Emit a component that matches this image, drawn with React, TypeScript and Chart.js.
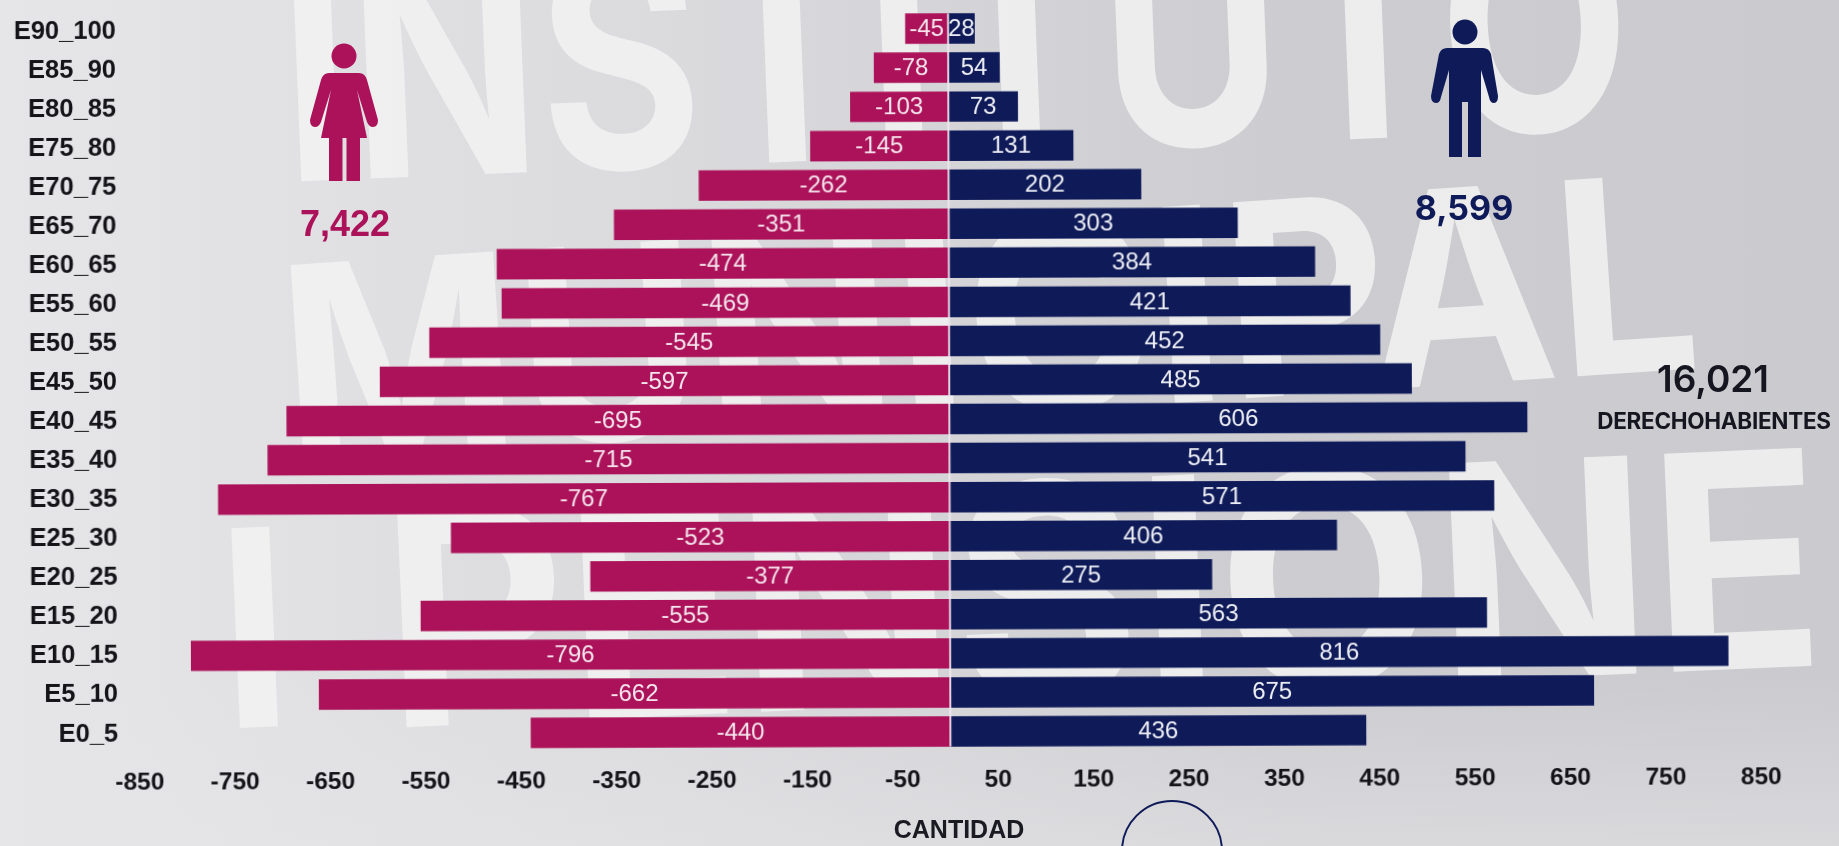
import React, { useEffect, useRef } from "react";
import { Chart, registerables } from "chart.js";

Chart.register(...registerables);

const categories = ["E90_100","E85_90","E80_85","E75_80","E70_75","E65_70","E60_65","E55_60","E50_55","E45_50","E40_45","E35_40","E30_35","E25_30","E20_25","E15_20","E10_15","E5_10","E0_5"];
const femaleValues = [-45,-78,-103,-145,-262,-351,-474,-469,-545,-597,-695,-715,-767,-523,-377,-555,-796,-662,-440];
const maleValues = [28,54,73,131,202,303,384,421,452,485,606,541,571,406,275,563,816,675,436];
const tickValues = [-850,-750,-650,-550,-450,-350,-250,-150,-50,50,150,250,350,450,550,650,750,850];
const axisTitle = "CANTIDAD";
const femaleTotal = "7,422";
const maleTotal = "8,599";
const grandTotal = "16,021";
const grandTotalLabel = "DERECHOHABIENTES";

const FEMALE = "#ab1259";
const MALE = "#0f1a58";

const barLabels = {
  id: "barLabels",
  afterDatasetsDraw(chart: any) {
    const { ctx } = chart;
    const zero = chart.scales.x.getPixelForValue(0);
    ctx.save();
    ctx.strokeStyle = "rgba(240,232,238,0.9)";
    ctx.lineWidth = 2;
    ctx.beginPath();
    ctx.moveTo(zero, chart.scales.y.getPixelForValue(0) - 15);
    ctx.lineTo(zero, chart.scales.y.getPixelForValue(categories.length - 1) + 15);
    ctx.stroke();
    ctx.font = '24px "Liberation Sans"';
    ctx.textAlign = "center";
    ctx.textBaseline = "middle";
    chart.data.datasets.forEach((ds: any, di: number) => {
      ctx.fillStyle = di === 0 ? "#f6e6ee" : "#eef0f6";
      chart.getDatasetMeta(di).data.forEach((el: any, i: number) => {
        ctx.fillText(String(ds.data[i]), (el.x + el.base) / 2, el.y + 1);
      });
    });
    ctx.restore();
  },
};

const letter: React.CSSProperties = { fontFamily: "Inter", fontWeight: 700 };

function Backdrop() {
  return (
    <svg width={1839} height={846} style={{ position: "absolute", left: 0, top: 0 }}>
      <defs>
        <linearGradient id="bg" x1="0" y1="0" x2="1" y2="0">
          <stop offset="0" stopColor="#e6e6e8" />
          <stop offset="0.35" stopColor="#dbdbde" />
          <stop offset="0.7" stopColor="#cdcdd1" />
          <stop offset="1" stopColor="#cbcbcf" />
        </linearGradient>
        <linearGradient id="bgv" x1="0" y1="0" x2="0" y2="1">
          <stop offset="0.8" stopColor="#e6e6e8" stopOpacity="0" />
          <stop offset="1" stopColor="#e6e6e8" stopOpacity="0.5" />
        </linearGradient>
      </defs>
      <rect width={1839} height={846} fill="url(#bg)" />
      <rect width={1839} height={846} fill="url(#bgv)" />
      <g fill="#f2f2f3" opacity={0.85} style={letter}>
        <text x={285} y={182} fontSize={300} textLength={1350} lengthAdjust="spacingAndGlyphs" transform="rotate(-2.3 285 182)">INSTITUTO</text>
        <text x={287} y={462} fontSize={270} textLength={1420} lengthAdjust="spacingAndGlyphs" transform="rotate(-3.8 287 462)">MUNICIPAL</text>
        <text x={388} y={728} fontSize={300} textLength={1440} lengthAdjust="spacingAndGlyphs" transform="rotate(-2.5 388 728)">PENSIONE</text>
        <rect x={240} y={528} width={38} height={200} transform="rotate(-2.5 240 728)" />
      </g>
      <g fill={FEMALE}>
        <circle cx={344} cy={56} r={12.5} />
        <path d="M329 73 H359 Q365 73 367 80 L378 120 Q378 127 373 127 Q369 127 367 122 L357 90 L367 138 H360 V181 H346.5 V138 H342.5 V181 H329 V138 H321 L331 90 L321 122 Q319 127 315 127 Q310 127 310 120 L321 80 Q323 73 329 73 Z" />
      </g>
      <g fill={MALE}>
        <circle cx={1465} cy={32} r={12.5} />
        <path d="M1447 48 H1483 Q1489 48 1491 54 L1498 96 Q1498 103 1494 103 Q1490 103 1489 97 L1481 70 V157 H1468 V102 H1462 V157 H1449 V70 L1441 97 Q1440 103 1436 103 Q1431 103 1431 96 L1439 54 Q1441 48 1447 48 Z" />
      </g>
      <circle cx={1172} cy={851} r={50} fill="none" stroke={MALE} strokeWidth={2} />
    </svg>
  );
}

const textBase: React.CSSProperties = { position: "absolute", transform: "translateX(-50%)", whiteSpace: "nowrap", lineHeight: 1 };

export default function App() {
  const ref = useRef<HTMLCanvasElement | null>(null);
  useEffect(() => {
    const chart = new Chart(ref.current as HTMLCanvasElement, {
      type: "bar",
      data: {
        labels: categories,
        datasets: [
          { label: "Mujeres", data: femaleValues, backgroundColor: FEMALE, barPercentage: 0.78, categoryPercentage: 1 },
          { label: "Hombres", data: maleValues, backgroundColor: MALE, barPercentage: 0.78, categoryPercentage: 1 },
        ],
      },
      options: {
        indexAxis: "y",
        responsive: false,
        animation: false,
        devicePixelRatio: 1,
        layout: { padding: { top: 9, right: 79, left: 0, bottom: 0 } },
        plugins: { legend: { display: false }, title: { display: false }, tooltip: { enabled: false } },
        scales: {
          x: {
            stacked: true,
            min: -850,
            max: 850,
            grid: { display: false, drawTicks: false },
            border: { display: false },
            afterFit: (s: any) => { s.height = 95; s.paddingLeft = 0; s.paddingRight = 0; s.paddingTop = 0; s.paddingBottom = 0; },
            afterBuildTicks: (s: any) => { s.ticks = tickValues.map((value) => ({ value })); },
            ticks: {
              autoSkip: false,
              maxRotation: 0,
              padding: 15,
              color: "#141418",
              font: { family: "Liberation Sans", size: 24.5, weight: "bold" },
              callback: (v: any) => String(v),
            },
          },
          y: {
            stacked: true,
            grid: { display: false, drawTicks: false },
            border: { display: false },
            afterFit: (s: any) => { s.width = 138.5; s.paddingTop = 0; s.paddingBottom = 0; s.paddingLeft = 0; s.paddingRight = 0; },
            ticks: {
              autoSkip: false,
              padding: 21.5,
              color: "#141418",
              font: { family: "Liberation Sans", size: 25.5, weight: "bold" },
            },
          },
        },
      } as any,
      plugins: [barLabels],
    });
    return () => chart.destroy();
  }, []);

  return (
    <div style={{ position: "fixed", left: 0, top: 0, width: 1839, height: 846, overflow: "hidden" }}>
      <Backdrop />
      <canvas ref={ref} width={1839} height={846} style={{ position: "absolute", left: 0, top: 0, transform: "rotate(-0.19deg)", transformOrigin: "950px 380px" }} />
      <div style={{ ...textBase, left: 345, top: 203, color: FEMALE, font: 'bold 36px "Liberation Sans"' }}>{femaleTotal}</div>
      <div style={{ ...textBase, left: 1464, top: 187, color: MALE, font: 'bold 34px Inter' }}>{maleTotal}</div>
      <div style={{ ...textBase, left: 1713, top: 356, color: "#15161f", font: '600 37px Inter' }}>{grandTotal}</div>
      <div style={{ ...textBase, left: 1714, top: 407, color: "#15161f", font: '700 22.5px Inter', letterSpacing: -0.3 }}>{grandTotalLabel}</div>
      <div style={{ ...textBase, left: 959, top: 815, color: "#1a1a22", font: 'bold 25px "Liberation Sans"' }}>{axisTitle}</div>
    </div>
  );
}
